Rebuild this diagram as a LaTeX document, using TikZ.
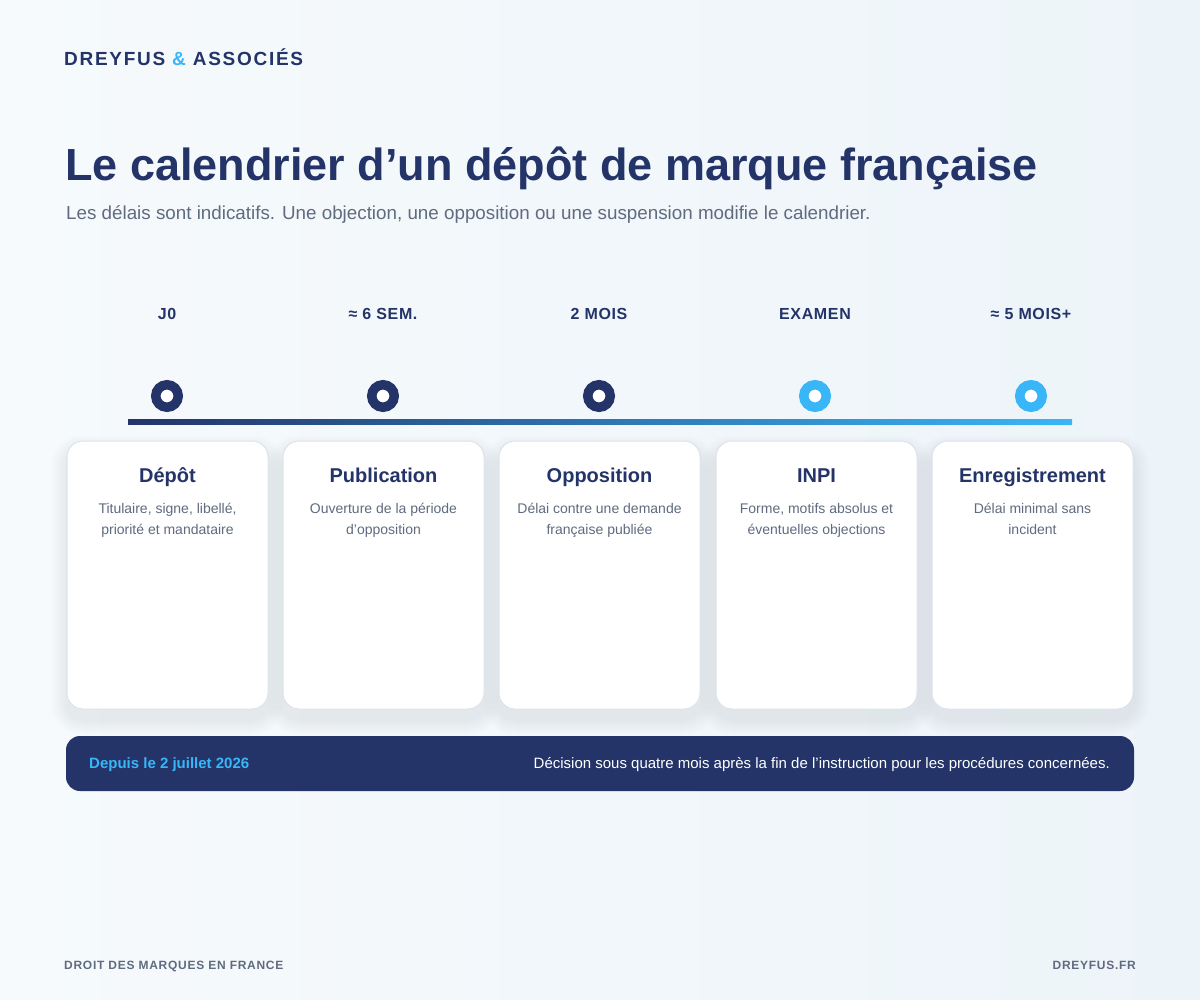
\documentclass[tikz,border=0pt]{standalone}
\usepackage{fontspec}
\setmainfont{Liberation Sans}
\newfontfamily\hdrfont[LetterSpace=9]{Liberation Sans}
\newfontfamily\lblfont[LetterSpace=4]{Liberation Sans}
\newfontfamily\footfont[LetterSpace=6]{Liberation Sans}
\pgfdeclarelayer{backlayer}
\pgfdeclarelayer{shadowlayer}
\pgfsetlayers{backlayer,shadowlayer,main}
\definecolor{navy}{HTML}{243469}
\definecolor{sky}{HTML}{38B6F8}
\definecolor{greytxt}{HTML}{5F6B80}
\definecolor{cardborder}{HTML}{DDE3EA}
\definecolor{bgA}{HTML}{F6FAFC}
\definecolor{bgB}{HTML}{EDF4F9}
\definecolor{shadowc}{HTML}{6F87A0}
\newcommand{\fs}[1]{\fontsize{#1}{#1}\selectfont}
\tikzset{
  card/.style={draw=cardborder, line width=1pt, fill=white, rounded corners=16pt,
    minimum width=201pt, minimum height=268pt, inner sep=0pt},
  cardtitle/.style={font=\bfseries\fs{20}, text=navy, inner sep=0pt, anchor=base},
  carddesc/.style={font=\fontsize{14}{21}\selectfont, text=greytxt, align=center, inner sep=0pt, anchor=base},
  tlabel/.style={font=\lblfont\bfseries\fs{16}, text=navy, anchor=base, inner sep=0pt},
  dotnavy/.style={circle, fill=white, draw=navy, line width=9.5pt, minimum size=22.5pt, inner sep=0pt},
  dotsky/.style={dotnavy, draw=sky},
}
\begin{document}
\begin{tikzpicture}[x=1pt,y=-1pt]
\begin{pgfonlayer}{backlayer}
\shade[left color=bgA, right color=bgB] (0,0) rectangle (1200,1000);
\end{pgfonlayer}
\useasboundingbox (0,0) rectangle (1200,1000);

% header
\node[anchor=base west, inner sep=0pt, font=\hdrfont\bfseries\fs{19}, text=navy] (brand) at (64,66) {DREYFUS \textcolor{sky}{\&} ASSOCIÉS};

% title
\node[anchor=base west, inner sep=0pt, font=\bfseries\fs{45}, text=navy] (title) at (65,181) {Le calendrier d’un dépôt de marque française};
\node[anchor=base west, inner sep=0pt, font=\fs{18.8}, text=greytxt] (subtitle) at (66,220) {Les délais sont indicatifs. Une objection, une opposition ou une suspension modifie le calendrier.};

% timeline line
\coordinate (tlA) at (128,419.5);
\coordinate (tlB) at (1072,424.5);
\shade[left color=navy, right color=sky] (tlA) rectangle (tlB);

% labels and dots
\node[tlabel] (l1) at (167,320) {J0};
\node[tlabel] (l2) at (383,320) {≈ 6 SEM.};
\node[tlabel] (l3) at (599,320) {2 MOIS};
\node[tlabel] (l4) at (815,320) {EXAMEN};
\node[tlabel] (l5) at (1031,320) {≈ 5 MOIS+};

\node[dotnavy] (d1) at (167,396) {};
\node[dotnavy] (d2) at (383,396) {};
\node[dotnavy] (d3) at (599,396) {};
\node[dotsky] (d4) at (815,396) {};
\node[dotsky] (d5) at (1031,396) {};

% cards
\node[card] (c1) at (167.5,575) {};
\node[card] (c2) at (383.5,575) {};
\node[card] (c3) at (599.5,575) {};
\node[card] (c4) at (816.5,575) {};
\node[card] (c5) at (1032.5,575) {};

\begin{pgfonlayer}{shadowlayer}
\foreach \c in {c1,c2,c3,c4,c5}{
  \foreach \i in {1,...,16}{
    \fill[shadowc, opacity=0.005, rounded corners=16pt+\i pt]
      ([shift={(-\i,-\i+10)}]\c.north west) rectangle ([shift={(\i,\i+10)}]\c.south east);
  }
}
\end{pgfonlayer}

\node[cardtitle] (t1) at (167.5,482) {Dépôt};
\node[cardtitle] (t2) at (383.5,482) {Publication};
\node[cardtitle] (t3) at (599.5,482) {Opposition};
\node[cardtitle] (t4) at (816.5,482) {INPI};
\node[cardtitle] (t5) at (1032.5,482) {Enregistrement};

\node[carddesc] (s1) at (167.5,534) {Titulaire, signe, libellé,\\priorité et mandataire};
\node[carddesc] (s2) at (383.5,534) {Ouverture de la période\\d’opposition};
\node[carddesc] (s3) at (599.5,534) {Délai contre une demande\\française publiée};
\node[carddesc] (s4) at (816.5,534) {Forme, motifs absolus et\\éventuelles objections};
\node[carddesc] (s5) at (1032.5,534) {Délai minimal sans\\incident};

% banner
\node[fill=navy, rounded corners=14pt, minimum width=1068pt, minimum height=55pt, inner sep=0pt] (banner) at (600,763.5) {};
\node[anchor=base west, inner sep=0pt, font=\bfseries\fs{15}, text=sky] (bl) at (89,768.5) {Depuis le 2 juillet 2026};
\node[anchor=base east, inner sep=0pt, font=\fs{15}, text=white] (br) at (1110,768.5) {Décision sous quatre mois après la fin de l’instruction pour les procédures concernées.};

% footer
\node[anchor=base west, inner sep=0pt, font=\footfont\bfseries\fs{12}, text=greytxt] (f1) at (64,969) {DROIT DES MARQUES EN FRANCE};
\node[anchor=base east, inner sep=0pt, font=\footfont\bfseries\fs{12}, text=greytxt] (f2) at (1136,969) {DREYFUS.FR};
\end{tikzpicture}
\end{document}
